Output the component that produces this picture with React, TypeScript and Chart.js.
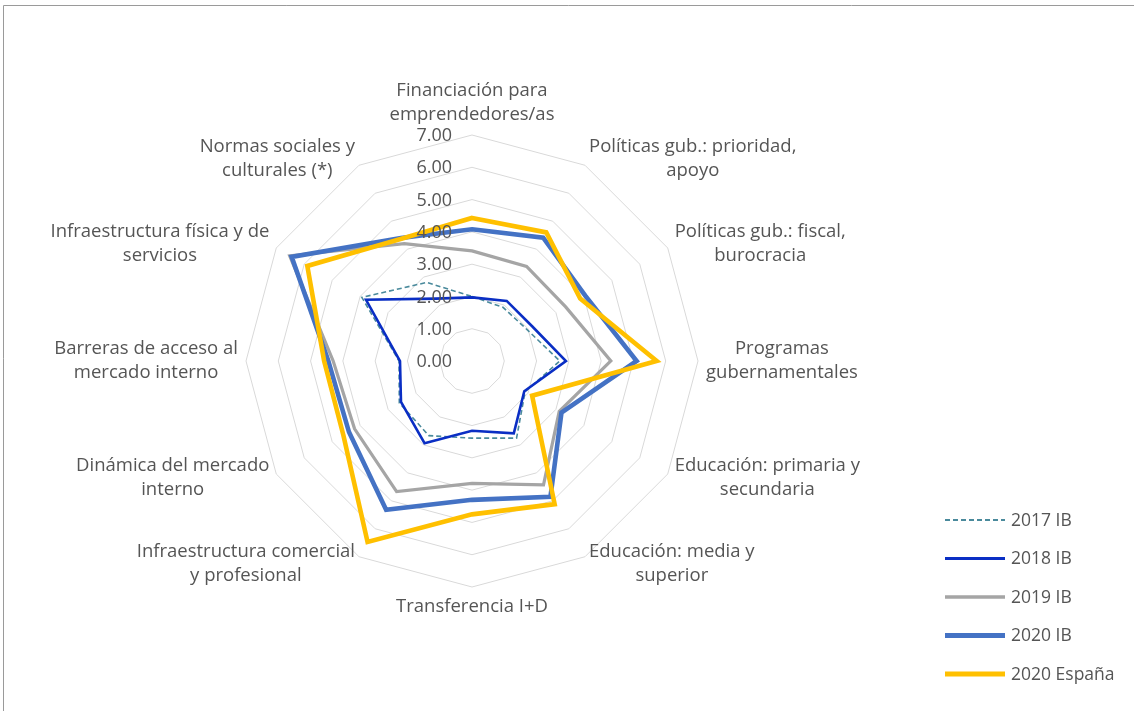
import React, { useEffect, useRef } from "react";
import { Chart, registerables } from "chart.js";

Chart.register(...registerables);

const CATEGORIES: string[][] = [
  ["Financiación para", "emprendedores/as"],
  ["Políticas gub.: prioridad,", "apoyo"],
  ["Políticas gub.: fiscal,", "burocracia"],
  ["Programas", "gubernamentales"],
  ["Educación: primaria y", "secundaria"],
  ["Educación: media y", "superior"],
  ["Transferencia I+D"],
  ["Infraestructura comercial", "y profesional"],
  ["Dinámica del mercado", "interno"],
  ["Barreras de acceso al", "mercado interno"],
  ["Infraestructura física y de", "servicios"],
  ["Normas sociales y", "culturales (*)"],
];

const SERIES_NAMES = ["2017 IB", "2018 IB", "2019 IB", "2020 IB", "2020 España"];

const IB_2017 = [2.0, 1.92, 1.96, 2.72, 1.9, 2.76, 2.39, 2.67, 2.6, 2.26, 3.94, 2.81];
const IB_2018 = [1.97, 2.15, 2.15, 2.91, 1.87, 2.59, 2.16, 2.94, 2.54, 2.23, 3.79, 2.23];
const IB_2019 = [3.41, 3.38, 3.35, 4.3, 3.12, 4.43, 3.79, 4.67, 4.2, 4.3, 6.52, 4.2];
const IB_2020 = [4.08, 4.41, 4.05, 5.1, 3.2, 4.86, 4.3, 5.32, 4.4, 4.45, 6.45, 4.4];
const ESP_2020 = [4.43, 4.6, 3.87, 5.72, 2.15, 5.12, 4.75, 6.47, 4.6, 4.58, 5.89, 4.37];

const TICK_VALUES = [0, 1, 2, 3, 4, 5, 6, 7];

const COLORS = ["#4A8A9C", "#0A2EC4", "#A5A5A5", "#4472C4", "#FFC000"];
const WIDTHS = [1.6, 2.6, 3.2, 4.6, 4.6];
const DASHES: number[][] = [[5, 3], [], [], [], []];

const TEXT_COLOR = "#555555";
const FONT = '"Open Sans", "DejaVu Sans", sans-serif';

export default function App() {
  const ref = useRef<HTMLCanvasElement | null>(null);

  useEffect(() => {
    const canvas = ref.current;
    if (!canvas) return;
    const seriesData = [IB_2017, IB_2018, IB_2019, IB_2020, ESP_2020];

    const overlay = {
      id: "overlay",
      afterDatasetsDraw(chart: any) {
        const scale = chart.scales.r;
        const ctx = chart.ctx;
        ctx.save();
        ctx.font = `18px ${FONT}`;
        ctx.fillStyle = TEXT_COLOR;
        ctx.textAlign = "right";
        ctx.textBaseline = "middle";
        TICK_VALUES.forEach((v) => {
          const d = scale.getDistanceFromCenterForValue(v);
          ctx.fillText(v.toFixed(2), scale.xCenter - 20, scale.yCenter - d + 1);
        });
        ctx.restore();
      },
      afterDraw(chart: any) {
        const scale = chart.scales.r;
        const ctx = chart.ctx;
        ctx.save();
        // frame lines
        ctx.strokeStyle = "#9A9A9A";
        ctx.lineWidth = 1;
        ctx.beginPath();
        ctx.moveTo(3.5, chart.height);
        ctx.lineTo(3.5, 5.5);
        ctx.lineTo(chart.width, 5.5);
        ctx.stroke();

        // category labels
        ctx.font = `18.5px ${FONT}`;
        ctx.fillStyle = TEXT_COLOR;
        ctx.textAlign = "center";
        ctx.textBaseline = "middle";
        const n = CATEGORIES.length;
        const R = scale.drawingArea + 8;
        const lh = 24;
        CATEGORIES.forEach((lines, i) => {
          const p = scale.getPointPosition(i, R);
          const w = Math.max(...lines.map((l) => ctx.measureText(l).width));
          const h = lines.length * lh;
          const deg = (i * 360) / n;
          let cx = p.x;
          let top = p.y - h / 2;
          if (deg === 0) {
            top = p.y - h;
          } else if (deg === 180) {
            top = p.y;
          } else if (deg < 180) {
            cx = p.x + w / 2;
          } else {
            cx = p.x - w / 2;
          }
          lines.forEach((l, k) => ctx.fillText(l, cx, top + lh * k + lh / 2));
        });

        // legend
        ctx.font = `17.5px ${FONT}`;
        ctx.textAlign = "left";
        SERIES_NAMES.forEach((name, k) => {
          const y = 520 + k * 38.5;
          ctx.strokeStyle = COLORS[k];
          ctx.lineWidth = WIDTHS[k] + 0.4;
          ctx.setLineDash(DASHES[k]);
          ctx.beginPath();
          ctx.moveTo(945, y);
          ctx.lineTo(1005, y);
          ctx.stroke();
          ctx.setLineDash([]);
          ctx.fillStyle = TEXT_COLOR;
          ctx.fillText(name, 1011, y + 1);
        });
        ctx.restore();
      },
    };

    const chart = new Chart(canvas, {
      type: "radar",
      data: {
        labels: CATEGORIES,
        datasets: SERIES_NAMES.map((name, k) => ({
          label: name,
          data: seriesData[k],
          borderColor: COLORS[k],
          backgroundColor: "transparent",
          borderWidth: WIDTHS[k],
          borderDash: DASHES[k],
          pointRadius: 0,
          pointHoverRadius: 0,
          fill: false,
          tension: 0,
          order: SERIES_NAMES.length - k,
        })),
      },
      options: {
        responsive: false,
        animation: false,
        devicePixelRatio: 1,
        layout: { padding: { left: 246, right: 436, top: 135, bottom: 124 } },
        plugins: {
          legend: { display: false },
          tooltip: { enabled: false },
        },
        scales: {
          r: {
            min: 0,
            max: 7,
            ticks: { display: false, stepSize: 1 },
            pointLabels: { display: false },
            angleLines: { display: false },
            grid: { color: "#D9D9D9", lineWidth: 1, circular: false },
          },
        },
      },
      plugins: [overlay],
    });
    return () => chart.destroy();
  }, []);

  return (
    <div style={{ position: "fixed", left: 0, top: 0, width: 1134, height: 711, background: "#fff" }}>
      <canvas ref={ref} width={1134} height={711} style={{ width: 1134, height: 711, display: "block" }} />
    </div>
  );
}
